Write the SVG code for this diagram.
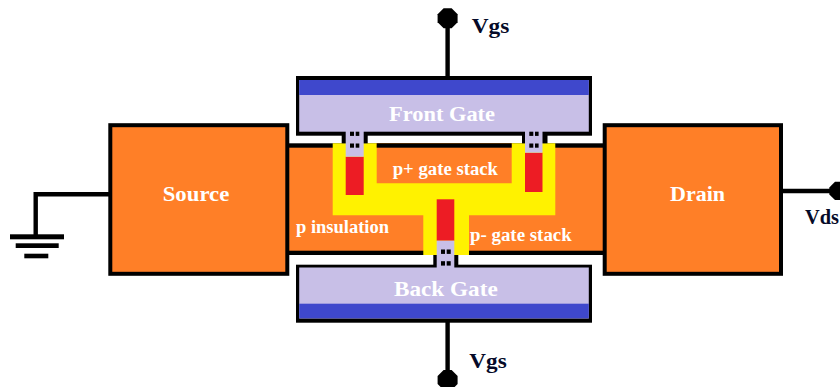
<svg xmlns="http://www.w3.org/2000/svg" width="840" height="387" viewBox="0 0 840 387">
<defs>
<style>
.blk{fill:#000}
.or{fill:#ff7f27}
.ye{fill:#fff200}
.re{fill:#ed1c24}
.li{fill:#c8bfe7}
.bl{fill:#3f48cc}
.wire{fill:none;stroke:#000;stroke-width:4.4}
text{font-family:"Liberation Serif","Times New Roman",serif;font-weight:700}
.w{fill:#fff}
.k{fill:#050a28}
</style>
</defs>
<rect width="840" height="387" fill="#fff"/>
<g id="connectors">
<path class="wire" d="M447.6 20V78"/>
<path class="wire" d="M447.6 320V378"/>
<path class="wire" d="M110 194.3H35.7V236"/>
<path class="wire" d="M781 191H832"/>
</g>
<g id="ground">
<rect class="blk" x="10" y="234.3" width="54" height="5"/>
<rect class="blk" x="15.7" y="243.3" width="43" height="4.7"/>
<rect class="blk" x="24.3" y="253.7" width="24" height="4.6"/>
</g>
<g id="terminal-top"><polygon class="blk" points="443.6,8.3 451.6,8.3 457.6,14.3 457.6,22.3 451.6,28.3 443.6,28.3 437.6,22.3 437.6,14.3"/></g>
<g id="terminal-bottom"><polygon class="blk" points="443.6,370 451.6,370 457.6,376 457.6,384 451.6,390 443.6,390 437.6,384 437.6,376"/></g>
<g id="terminal-drain"><polygon class="blk" points="829.3,187.5 835,181.7 844,181.7 850,187.5 850,194.5 844,200 835,200 829.3,194.5"/></g>
<g id="channel">
<rect class="blk" x="288" y="143.3" width="316" height="111.7"/>
<rect class="or" x="288" y="147.7" width="316" height="103"/>
<path class="ye" d="M332.7 143.3H555.3V215.3H469V255H423.3V215.3H332.7Z"/>
<path class="or" d="M376.7 143.3H511.7V183.3H376.7Z"/>
<rect class="blk" x="376.7" y="143.3" width="135" height="4.4"/>
<rect class="re" x="345.7" y="156.7" width="18" height="38.3"/>
<rect class="re" x="525" y="152.7" width="17.5" height="39.3"/>
<rect class="re" x="436.7" y="199.3" width="17.6" height="41.4"/>
<text class="w" x="392.7" y="175" font-size="18" textLength="105.3" lengthAdjust="spacingAndGlyphs">p+ gate stack</text>
<text class="w" x="296" y="232.7" font-size="18" textLength="93" lengthAdjust="spacingAndGlyphs">p insulation</text>
<text class="w" x="470" y="240.7" font-size="18" textLength="101.7" lengthAdjust="spacingAndGlyphs">p- gate stack</text>
</g>
<g id="front-gate">
<rect class="blk" x="296" y="76" width="296" height="59.7"/>
<rect class="blk" x="341.7" y="130" width="26" height="13.3"/>
<rect class="blk" x="522" y="130" width="25.5" height="13.3"/>
<rect class="li" x="299.2" y="80" width="289.6" height="51.7"/>
<rect class="bl" x="299.2" y="80" width="289.6" height="15"/>
<rect class="li" x="345.7" y="131" width="18" height="25.7"/>
<rect class="li" x="525" y="131" width="17.5" height="21.7"/>
<g class="blk">
<rect x="350" y="131.7" width="4" height="4.2"/><rect x="355.7" y="131.7" width="3.6" height="4.2"/>
<rect x="350" y="143.5" width="4" height="4.2"/><rect x="355.7" y="143.5" width="3.6" height="4.2"/>
<rect x="529.3" y="131.7" width="4" height="4.2"/><rect x="535" y="131.7" width="3.6" height="4.2"/>
<rect x="529.3" y="143.5" width="4" height="4.2"/><rect x="535" y="143.5" width="3.6" height="4.2"/>
</g>
<text class="w" x="389" y="121" font-size="22" textLength="106" lengthAdjust="spacingAndGlyphs">Front Gate</text>
</g>
<g id="back-gate">
<rect class="blk" x="296" y="264.7" width="296" height="58"/>
<rect class="blk" x="433.3" y="255" width="25" height="12"/>
<rect class="li" x="299.2" y="267.5" width="289.6" height="51"/>
<rect class="bl" x="299.2" y="303.7" width="289.6" height="14.6"/>
<rect class="li" x="436.7" y="240.7" width="17.6" height="28"/>
<g class="blk">
<rect x="441" y="249.5" width="4" height="4.4"/><rect x="446.7" y="249.5" width="4" height="4.4"/>
<rect x="441" y="261.2" width="4" height="4.4"/><rect x="446.7" y="261.2" width="4" height="4.4"/>
</g>
<text class="w" x="394" y="296" font-size="22" textLength="103.7" lengthAdjust="spacingAndGlyphs">Back Gate</text>
</g>
<g id="source">
<rect class="or" x="110.3" y="125.2" width="177" height="148.6" stroke="#000" stroke-width="4"/>
<text class="w" x="162.7" y="200.7" font-size="22" textLength="66.6" lengthAdjust="spacingAndGlyphs">Source</text>
</g>
<g id="drain">
<rect class="or" x="604.7" y="125.2" width="176.3" height="148.6" stroke="#000" stroke-width="4"/>
<text class="w" x="670" y="200.7" font-size="22" textLength="55" lengthAdjust="spacingAndGlyphs">Drain</text>
</g>
<text class="k" x="471.7" y="33" font-size="22" textLength="37.6" lengthAdjust="spacingAndGlyphs">Vgs</text>
<text class="k" x="469.3" y="368.3" font-size="22" textLength="37.4" lengthAdjust="spacingAndGlyphs">Vgs</text>
<text class="k" x="805" y="224" font-size="21" textLength="34" lengthAdjust="spacingAndGlyphs">Vds</text>
</svg>
